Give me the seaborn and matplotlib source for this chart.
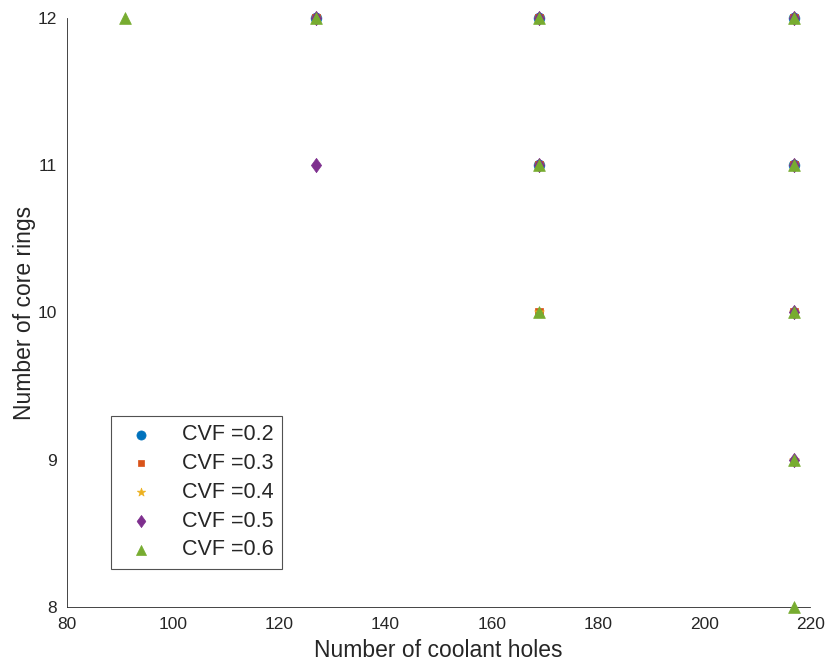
import numpy as np
import pandas as pd
import matplotlib
matplotlib.use("Agg")
import matplotlib.pyplot as plt
import seaborn as sns

cvf_labels = ["CVF =0.2", "CVF =0.3", "CVF =0.4", "CVF =0.5", "CVF =0.6"]
x_02 = [127, 169, 217, 169, 217]
y_02 = [12, 12, 12, 11, 11]
x_03 = [127, 169, 217, 169, 217, 169, 217]
y_03 = [12, 12, 12, 11, 11, 10, 10]
x_04 = [127, 169, 217, 169, 217, 169, 217, 217]
y_04 = [12, 12, 12, 11, 11, 10, 10, 9]
x_05 = [127, 169, 217, 127, 169, 217, 217, 217]
y_05 = [12, 12, 12, 11, 11, 11, 10, 9]
x_06 = [91, 127, 169, 217, 169, 217, 169, 217, 217, 217]
y_06 = [12, 12, 12, 12, 11, 11, 10, 10, 9, 8]

xs = [x_02, x_03, x_04, x_05, x_06]
ys = [y_02, y_03, y_04, y_05, y_06]
rows = []
for lab, xx, yy in zip(cvf_labels, xs, ys):
    for a, b in zip(xx, yy):
        rows.append({"holes": a, "rings": b, "cvf": lab})
df = pd.DataFrame(rows)

sns.set_style("white")
plt.rcParams["font.family"] = ["Liberation Sans", "DejaVu Sans"]

colors = ["#0072BD", "#D95319", "#EDB120", "#7E2F8E", "#77AC30"]
diamond = [(0, -1), (0.72, 0), (0, 1), (-0.72, 0), (0, -1)]
markers = ["o", "s", "*", diamond, "^"]
sizes = [60, 28, 55, 105, 72]

fig = plt.figure(figsize=(8.26, 6.63), dpi=100)
ax = fig.add_axes([0.081, 0.0845, 0.900, 0.8885])

for lab, c, m, s in zip(cvf_labels, colors, markers, sizes):
    sub = df[df["cvf"] == lab]
    sns.scatterplot(data=sub, x="holes", y="rings", color=c, marker=m, s=s,
                    edgecolor=c, linewidth=0.5, ax=ax, label=lab, clip_on=False,
                    zorder=3)

ax.set_xlim(80, 220)
ax.set_ylim(8, 12)
ax.set_xticks(np.arange(80, 221, 20))
ax.set_yticks([8, 9, 10, 11, 12])
ax.tick_params(direction="in", length=5, width=0.6, colors="#262626",
               labelsize=12.5, labelcolor="#262626", pad=7)
for sp in ["top", "right"]:
    ax.spines[sp].set_visible(False)
for sp in ["left", "bottom"]:
    ax.spines[sp].set_color("#262626")
    ax.spines[sp].set_linewidth(0.6)
ax.set_xlabel("Number of coolant holes", fontsize=16.5, color="#262626", labelpad=5)
ax.set_ylabel("Number of core rings", fontsize=16.5, color="#262626", labelpad=1.5)

leg = ax.legend(loc="lower left", bbox_to_anchor=(0.059, 0.0645), fontsize=15.5,
                frameon=True, fancybox=False, edgecolor="#262626",
                handletextpad=0.9, borderpad=0.4, labelspacing=0.36,
                handlelength=2.0, borderaxespad=0, markerscale=0.85)
leg.get_frame().set_linewidth(0.8)

fig.savefig("out.png", dpi=100)
